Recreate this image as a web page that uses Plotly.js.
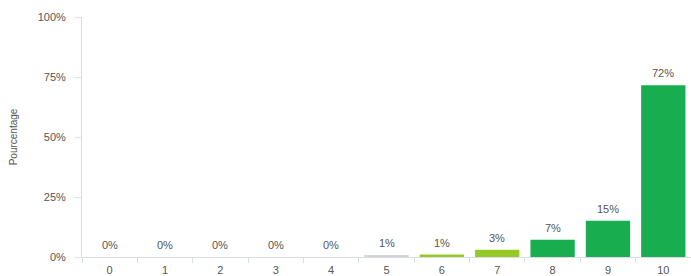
<!DOCTYPE html>
<html>
<head>
<meta charset="utf-8">
<script src="https://cdn.plot.ly/plotly-3.0.1.min.js"></script>
<style>html,body{margin:0;padding:0;background:#fff;}#chart{width:691px;height:276px;}</style>
</head>
<body>
<div id="chart"></div>
<script>
var categories = ['0','1','2','3','4','5','6','7','8','9','10'];
var values = [0, 0, 0, 0, 0, 0.8, 1.0, 3.0, 7.2, 15.1, 71.6];
var barColors = ['#d4d4d4','#d4d4d4','#d4d4d4','#d4d4d4','#d4d4d4','#d4d4d4','#95c925','#95c925','#18ad4f','#18ad4f','#18ad4f'];
var yTicks = [0, 25, 50, 75, 100];

var annotations = categories.map(function(c, i){
  return {x: c, y: values[i], text: Math.round(values[i]) + '%', showarrow: false,
    yanchor: 'bottom', yshift: 4, font: {family: 'Liberation Sans, Arial, sans-serif', size: 11, color: '#555'}};
});

var trace = {
  type: 'bar', x: categories, y: values,
  marker: {color: barColors},
  hoverinfo: 'none'
};

var layout = {
  width: 691, height: 276,
  margin: {l: 82, r: 0, t: 17, b: 19},
  paper_bgcolor: '#fff', plot_bgcolor: '#fff',
  bargap: 0.2,
  showlegend: false,
  font: {family: 'Liberation Sans, Arial, sans-serif', size: 11, color: '#555'},
  xaxis: {type: 'category', showgrid: false, zeroline: false, showline: true, linecolor: '#d9ddea', linewidth: 1,
    ticks: 'outside', tickson: 'boundaries', ticklen: 5, tickcolor: '#d9ddea', ticklabelstandoff: 3,
    tickfont: {size: 11, color: '#555'}, fixedrange: true},
  yaxis: {range: [0, 100], tickvals: yTicks, ticktext: yTicks.map(function(v){return v + '%';}),
    showgrid: false, zeroline: false, showline: true, linecolor: '#d9ddea', linewidth: 1,
    ticks: 'outside', ticklen: 7, tickcolor: '#e3e3e3', ticklabelstandoff: 6,
    tickfont: {size: 11, color: '#555'},
    title: {text: 'Pourcentage', font: {size: 10, color: '#555'}, standoff: 18}},
  annotations: annotations
};

Plotly.newPlot('chart', [trace], layout, {displayModeBar: false, staticPlot: true});
</script>
</body>
</html>
